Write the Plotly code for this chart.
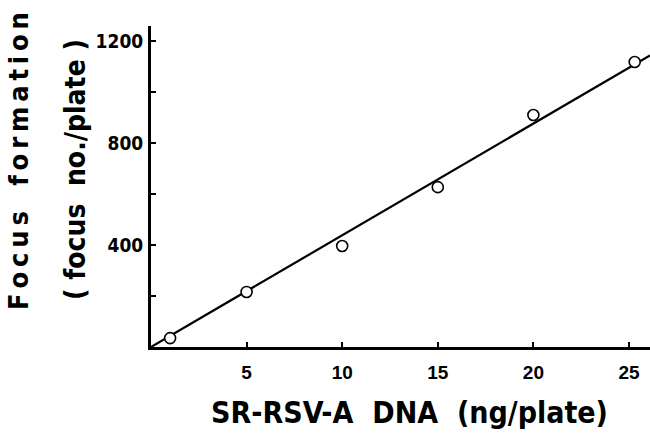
import numpy as np
import plotly.graph_objects as go

# Data
dna_ng = [1.0, 5.0, 10.0, 15.0, 20.0, 25.3]
focus_no = [35, 216, 396, 627, 910, 1118]

x_ticks = [5, 10, 15, 20, 25]
y_ticks = [400, 800, 1200]
y_minor = [200, 600, 1000]

# Least-squares line through the origin
xa = np.array(dna_ng)
ya = np.array(focus_no)
slope = float((xa * ya).sum() / (xa * xa).sum())
line_x = np.array([0.0, 26.1])
line_y = slope * line_x

COND = "DejaVu Sans Condensed"

W, H = 650, 433
L, R, T, B = 151, 0, 26, 86
PW, PH = W - L - R, H - T - B


def px_ann(text, px, py, size, angle=0, family=COND):
    return dict(text=text, x=(px - L) / PW, y=1 - (py - T) / PH,
                xref="paper", yref="paper", xanchor="center", yanchor="middle",
                textangle=angle, showarrow=False,
                font=dict(family=family, size=size, weight="bold", color="black"))


fig = go.Figure()
fig.add_trace(go.Scatter(x=line_x, y=line_y, mode="lines",
                         line=dict(color="black", width=2.2), hoverinfo="skip"))
fig.add_trace(go.Scatter(x=dna_ng, y=focus_no, mode="markers",
                         marker=dict(symbol="circle", size=11, color="white",
                                     line=dict(color="black", width=1.6))))

TS = "\u2009"
y_title = TS.join("Focus") + "   " + TS.join("formation")

fig.update_layout(
    width=W, height=H,
    margin=dict(l=L, r=R, t=T, b=B),
    paper_bgcolor="white", plot_bgcolor="white",
    showlegend=False,
    xaxis=dict(range=[0, 26.1], tickvals=x_ticks, ticks="inside", ticklen=5,
               tickwidth=2, tickcolor="black", showline=True, linecolor="black",
               linewidth=3, showgrid=False, zeroline=False, automargin=False,
               ticklabelstandoff=6,
               tickfont=dict(family="Liberation Sans", size=19, color="black", weight="bold")),
    yaxis=dict(range=[0, 1259], tickvals=y_ticks, ticks="inside", ticklen=5,
               tickwidth=2, tickcolor="black", showline=True, linecolor="black",
               linewidth=3, showgrid=False, zeroline=False, automargin=False,
               ticklabelstandoff=1,
               tickfont=dict(family=COND, size=19, color="black", weight="bold"),
               minor=dict(tickvals=y_minor, ticks="inside", ticklen=5,
                          tickwidth=2, tickcolor="black", showgrid=False)),
    annotations=[
        px_ann("SR-RSV-A  DNA  (ng/plate)", 409, 412, 30),
        px_ann(y_title, 19, 161, 27, angle=-90),
        px_ann("( focus  no./plate )", 75, 170, 28, angle=-90),
    ],
)

fig.write_html("out.html", config={"displayModeBar": False},
               post_script="document.body.style.margin='0';")
